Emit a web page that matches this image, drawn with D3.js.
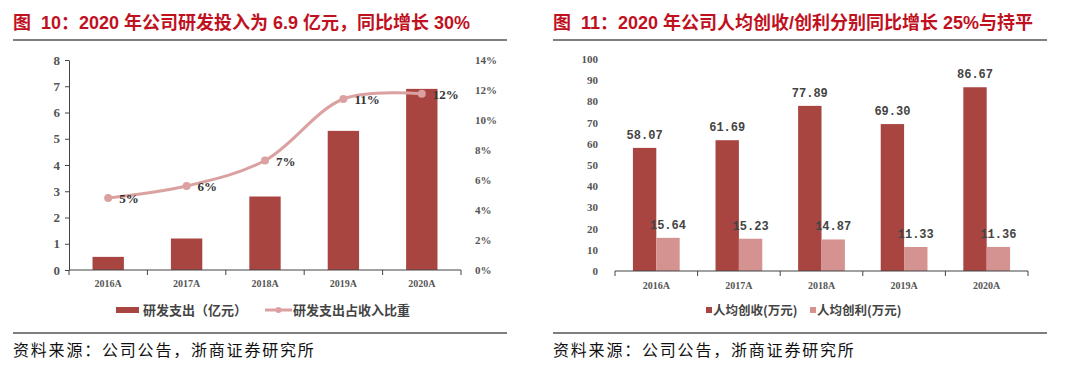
<!DOCTYPE html>
<html>
<head>
<meta charset="utf-8">
<script src="https://cdn.jsdelivr.net/npm/d3@7"></script>
<style>
  body { margin: 0; background: #fff; }
  svg { display: block; }
</style>
</head>
<body>
<svg id="chart" width="1080" height="365"></svg>
<script>
// data
const years = ["2016A", "2017A", "2018A", "2019A", "2020A"];
const rdSpend = [0.5, 1.2, 2.8, 5.3, 6.9];            // 亿元
const rdRatio = [4.8, 5.6, 7.3, 11.4, 11.75];         // %
const revPerHead = [58.07, 61.69, 77.89, 69.30, 86.67];   // 万元
const profitPerHead = [15.64, 15.23, 14.87, 11.33, 11.36]; // 万元

const spendTicks = [0, 1, 2, 3, 4, 5, 6, 7, 8];
const ratioTicks = [0, 2, 4, 6, 8, 10, 12, 14];
const perHeadTicks = [0, 10, 20, 30, 40, 50, 60, 70, 80, 90, 100];

const titles = [
    "图\u00a0\u00a010：2020 年公司研发投入为 6.9 亿元，同比增长 30%",
    "图\u00a0\u00a011：2020 年公司人均创收/创利分别同比增长 25%与持平"
];
const legend1 = ["研发支出（亿元）", "研发支出占收入比重"];
const legend2 = ["人均创收(万元)", "人均创利(万元)"];
const sourceText = "资料来源：公司公告，浙商证券研究所";

const darkRed = "#a84541";
const lightRed = "#d49290";
const lineColor = "#dba1a0";
const titleRed = "#c0111f";
const axisFont = "'Liberation Serif', 'DejaVu Serif', serif";
const cjkFont = "'Noto Sans CJK SC', sans-serif";

const svg = d3.select("#chart");

// frame: title, rules, source for each panel
[0, 540].forEach((ox, i) => {
    const g = svg.append("g").attr("transform", `translate(${ox},0)`);
    g.append("text")
        .attr("x", 13).attr("y", 29)
        .attr("font-family", "'Liberation Sans', 'Noto Sans CJK SC', sans-serif")
        .attr("font-size", "18px").attr("font-weight", "bold")
        .attr("fill", titleRed)
        .text(titles[i]);
    g.append("line").attr("x1", 13).attr("x2", 507).attr("y1", 40).attr("y2", 40)
        .attr("stroke", "#000").attr("stroke-width", 1.2);
    g.append("line").attr("x1", 13).attr("x2", 507).attr("y1", 333).attr("y2", 333)
        .attr("stroke", "#000").attr("stroke-width", 1.2);
    g.append("text")
        .attr("x", 13).attr("y", 356)
        .attr("font-family", cjkFont).attr("font-size", "16px")
        .attr("letter-spacing", "1.8px")
        .attr("fill", "#111")
        .text(sourceText);
});

// ---------- left chart ----------
{
    const left = 69, right = 461, top = 60, bottom = 270;

    const x = d3.scaleBand().domain(years).range([left, right]);
    const y = d3.scaleLinear().domain([0, 8]).range([bottom, top]);
    const y2 = d3.scaleLinear().domain([0, 14]).range([bottom, top]);

    const g = svg.append("g");

    g.selectAll("rect.bar")
        .data(years)
        .enter()
        .append("rect")
        .attr("class", "bar")
        .attr("x", d => x(d) + x.bandwidth() * 0.3)
        .attr("width", x.bandwidth() * 0.4)
        .attr("y", (d, i) => y(rdSpend[i]))
        .attr("height", (d, i) => bottom - y(rdSpend[i]))
        .attr("fill", darkRed);

    // left axis
    const yAxis = g.append("g")
        .attr("transform", `translate(${left},0)`)
        .call(d3.axisLeft(y).tickValues(spendTicks).tickSize(4).tickSizeOuter(0));
    yAxis.select(".domain").attr("stroke", "#444");
    yAxis.selectAll("line").attr("stroke", "#444");
    yAxis.selectAll("text")
        .attr("font-family", axisFont).attr("font-size", "13px")
        .attr("font-weight", "bold").attr("fill", "#555").attr("dx", "-2");

    // right axis (no line)
    const y2Axis = g.append("g")
        .attr("transform", `translate(${right},0)`)
        .call(d3.axisRight(y2).tickValues(ratioTicks).tickSize(0).tickFormat(d => d + "%"));
    y2Axis.select(".domain").remove();
    y2Axis.selectAll("text")
        .attr("font-family", axisFont).attr("font-size", "11px")
        .attr("font-weight", "bold").attr("fill", "#555").attr("dx", "11");

    // x axis
    const xAxis = g.append("g").attr("transform", `translate(0,${bottom})`);
    xAxis.append("line").attr("x1", left).attr("x2", right)
        .attr("stroke", "#444").attr("stroke-width", 1.2);
    xAxis.selectAll("line.tk")
        .data(d3.range(years.length + 1))
        .enter().append("line").attr("class", "tk")
        .attr("x1", i => left + i * x.step()).attr("x2", i => left + i * x.step())
        .attr("y1", 0).attr("y2", 5).attr("stroke", "#444");
    xAxis.selectAll("text")
        .data(years)
        .enter().append("text")
        .attr("x", d => x(d) + x.bandwidth() / 2).attr("y", 17)
        .attr("text-anchor", "middle")
        .attr("font-family", axisFont).attr("font-size", "10px")
        .attr("font-weight", "bold").attr("fill", "#555")
        .text(d => d);

    // ratio line
    const line = d3.line()
        .x((d, i) => x(years[i]) + x.bandwidth() / 2)
        .y(d => y2(d))
        .curve(d3.curveCatmullRom.alpha(0.5));
    g.append("path")
        .datum(rdRatio)
        .attr("d", line)
        .attr("fill", "none")
        .attr("stroke", lineColor)
        .attr("stroke-width", 3);
    g.selectAll("circle.pt")
        .data(rdRatio)
        .enter().append("circle").attr("class", "pt")
        .attr("cx", (d, i) => x(years[i]) + x.bandwidth() / 2)
        .attr("cy", d => y2(d))
        .attr("r", 4)
        .attr("fill", lineColor);
    g.selectAll("text.lbl")
        .data(rdRatio)
        .enter().append("text").attr("class", "lbl")
        .attr("x", (d, i) => x(years[i]) + x.bandwidth() / 2 + 11)
        .attr("y", d => y2(d) + 5)
        .attr("font-family", axisFont).attr("font-size", "13px")
        .attr("font-weight", "bold").attr("fill", "#333")
        .text(d => Math.round(d) + "%");

    // legend
    const lg = g.append("g").attr("transform", "translate(0,310)");
    lg.append("rect").attr("x", 116).attr("y", -3).attr("width", 23).attr("height", 6).attr("fill", darkRed);
    lg.append("text").attr("x", 143).attr("y", 5)
        .attr("font-family", cjkFont).attr("font-size", "13px").attr("font-weight", "bold")
        .attr("fill", "#444").text(legend1[0]);
    lg.append("line").attr("x1", 265).attr("x2", 292).attr("y1", 0).attr("y2", 0)
        .attr("stroke", lineColor).attr("stroke-width", 3);
    lg.append("circle").attr("cx", 278.5).attr("cy", 0).attr("r", 3).attr("fill", lineColor);
    lg.append("text").attr("x", 293).attr("y", 5)
        .attr("font-family", cjkFont).attr("font-size", "13px").attr("font-weight", "bold")
        .attr("fill", "#444").text(legend1[1]);
}

// ---------- right chart ----------
{
    const left = 615, right = 1028, top = 59, bottom = 271;

    const x = d3.scaleBand().domain(years).range([left, right]);
    const y = d3.scaleLinear().domain([0, 100]).range([bottom, top]);
    const barW = x.bandwidth() * 0.283;

    const g = svg.append("g");

    const series = [revPerHead, profitPerHead];
    const colors = [darkRed, lightRed];

    series.forEach((vals, s) => {
        const bx = (d, i) => x(years[i]) + x.bandwidth() / 2 - barW + s * barW;
        g.selectAll(`rect.s${s}`)
            .data(vals)
            .enter().append("rect").attr("class", `s${s}`)
            .attr("x", bx)
            .attr("width", barW)
            .attr("y", d => y(d))
            .attr("height", d => bottom - y(d))
            .attr("fill", colors[s]);
        g.selectAll(`text.v${s}`)
            .data(vals)
            .enter().append("text").attr("class", `v${s}`)
            .attr("x", (d, i) => bx(d, i) + barW / 2)
            .attr("y", d => y(d) - 9)
            .attr("text-anchor", "middle")
            .attr("font-family", "'Liberation Mono', 'DejaVu Sans Mono', monospace")
            .attr("font-size", "12px").attr("font-weight", "bold")
            .attr("fill", "#444")
            .text(d => d.toFixed(2));
    });

    const yAxis = g.append("g")
        .attr("transform", `translate(601,0)`)
        .call(d3.axisLeft(y).tickValues(perHeadTicks).tickSize(0));
    yAxis.select(".domain").remove();
    yAxis.selectAll("text")
        .attr("font-family", axisFont).attr("font-size", "11px")
        .attr("font-weight", "bold").attr("fill", "#555").attr("dx", "0");

    const xAxis = g.append("g").attr("transform", `translate(0,${bottom})`);
    xAxis.append("line").attr("x1", left).attr("x2", right)
        .attr("stroke", "#444").attr("stroke-width", 1.2);
    xAxis.selectAll("line.tk")
        .data(d3.range(years.length + 1))
        .enter().append("line").attr("class", "tk")
        .attr("x1", i => left + i * x.step()).attr("x2", i => left + i * x.step())
        .attr("y1", 0).attr("y2", 5).attr("stroke", "#444");
    xAxis.selectAll("text")
        .data(years)
        .enter().append("text")
        .attr("x", d => x(d) + x.bandwidth() / 2).attr("y", 18)
        .attr("text-anchor", "middle")
        .attr("font-family", axisFont).attr("font-size", "10px")
        .attr("font-weight", "bold").attr("fill", "#555")
        .text(d => d);

    const lg = g.append("g").attr("transform", "translate(0,310)");
    lg.append("rect").attr("x", 706).attr("y", -3).attr("width", 6).attr("height", 6).attr("fill", darkRed);
    lg.append("text").attr("x", 713).attr("y", 5)
        .attr("font-family", cjkFont).attr("font-size", "12.5px").attr("font-weight", "bold")
        .attr("fill", "#444").text(legend2[0]);
    lg.append("rect").attr("x", 810).attr("y", -3).attr("width", 6).attr("height", 6).attr("fill", lightRed);
    lg.append("text").attr("x", 817).attr("y", 5)
        .attr("font-family", cjkFont).attr("font-size", "12.5px").attr("font-weight", "bold")
        .attr("fill", "#444").text(legend2[1]);
}
</script>
</body>
</html>
